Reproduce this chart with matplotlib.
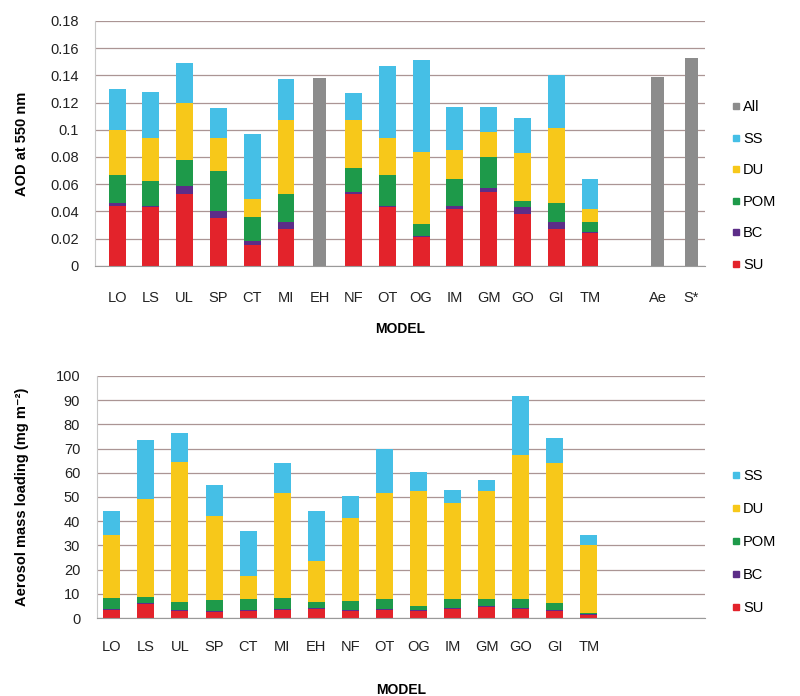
import matplotlib
matplotlib.use("Agg")
import matplotlib.pyplot as plt
from matplotlib.lines import Line2D
import numpy as np

plt.rcParams['font.family'] = ['Liberation Sans', 'DejaVu Sans']

# ---------------- data ----------------
models = ["LO", "LS", "UL", "SP", "CT", "MI", "EH", "NF", "OT", "OG", "IM", "GM", "GO", "GI", "TM"]
top_labels = models + ["", "Ae", "S*"]

# Top panel: AOD at 550 nm components (EH has only total)
aod_su  = [0.044, 0.043, 0.053, 0.035, 0.015, 0.027, 0.0, 0.053, 0.043, 0.021, 0.042, 0.054, 0.038, 0.027, 0.024]
aod_bc  = [0.002, 0.001, 0.006, 0.005, 0.003, 0.005, 0.0, 0.001, 0.001, 0.001, 0.002, 0.003, 0.005, 0.005, 0.001]
aod_pom = [0.021, 0.018, 0.019, 0.030, 0.018, 0.021, 0.0, 0.018, 0.023, 0.009, 0.020, 0.023, 0.005, 0.014, 0.007]
aod_du  = [0.033, 0.032, 0.042, 0.024, 0.013, 0.054, 0.0, 0.035, 0.027, 0.053, 0.021, 0.018, 0.035, 0.055, 0.010]
aod_ss  = [0.030, 0.034, 0.029, 0.022, 0.048, 0.030, 0.0, 0.020, 0.053, 0.067, 0.032, 0.019, 0.026, 0.039, 0.022]
aod_all_labels = ["EH", "Ae", "S*"]
aod_all = [0.138, 0.139, 0.153]

# Bottom panel: aerosol mass loading (mg m-2)
mass_su  = [3.3, 5.7, 2.8, 2.4, 2.8, 3.3, 3.7, 3.0, 3.3, 2.8, 3.7, 4.4, 3.7, 2.8, 1.2]
mass_bc  = [0.5, 0.5, 0.4, 0.4, 0.4, 0.4, 0.4, 0.4, 0.4, 0.4, 0.4, 0.4, 0.4, 0.4, 0.3]
mass_pom = [4.5, 2.5, 3.3, 4.5, 4.6, 4.6, 2.4, 3.5, 4.1, 1.6, 3.7, 3.0, 3.7, 3.0, 0.5]
mass_du  = [26.1, 40.3, 58.1, 34.7, 9.7, 43.3, 16.9, 34.4, 43.8, 47.5, 39.7, 44.5, 59.6, 57.8, 28.3]
mass_ss  = [9.6, 24.6, 12.0, 13.0, 18.3, 12.4, 20.6, 8.9, 18.4, 8.2, 5.5, 4.5, 24.1, 10.3, 4.1]

comp_names = ["SU", "BC", "POM", "DU", "SS"]
colors = {"SU": "#e3232b", "BC": "#5c2d88", "POM": "#1e9a4a",
          "DU": "#f7c81a", "SS": "#45bfe6", "All": "#8c8c8c"}

grid_c = "#ab9594"

fig = plt.figure(figsize=(8, 6.96), dpi=100)

def style_axes(ax, xpad):
    ax.set_axisbelow(True)
    ax.yaxis.grid(True, color=grid_c, lw=0.9)
    ax.xaxis.grid(False)
    for s in ["top", "right"]:
        ax.spines[s].set_visible(False)
    ax.spines["left"].set_color("#c8c8c8")
    ax.spines["bottom"].set_color("#9a9a9a")
    ax.tick_params(axis="both", length=0, labelsize=10.5, colors="#222222")
    ax.tick_params(axis="x", pad=xpad)
    ax.tick_params(axis="y", pad=12)

def legend_handles(names):
    return [Line2D([0], [0], marker="s", color="none", markerfacecolor=colors[n],
                   markeredgecolor=colors[n], markersize=4.5, label=n) for n in names]

# ---------------- top panel ----------------
ax1 = fig.add_axes([0.119, 0.618, 0.762, 0.352])
style_axes(ax1, 18)
x_models = np.arange(len(models))
w = 0.5
bottom = np.zeros(len(models))
for name, vals in zip(comp_names, [aod_su, aod_bc, aod_pom, aod_du, aod_ss]):
    v = np.array(vals)
    ax1.bar(x_models, v, w, bottom=bottom, color=colors[name], lw=0)
    bottom += v
pos_all = [top_labels.index(l) for l in aod_all_labels]
ax1.bar(pos_all, aod_all, 0.38, color=colors["All"], lw=0)
ax1.set_xlim(-0.65, 17.4)
ax1.set_ylim(0, 0.18)
ax1.set_yticks(np.arange(0, 0.181, 0.02))
ax1.set_yticklabels(["0", "0.02", "0.04", "0.06", "0.08", "0.1", "0.12", "0.14", "0.16", "0.18"])
ax1.set_xticks(np.arange(len(top_labels)))
ax1.set_xticklabels(top_labels)
ax1.set_ylabel("AOD at 550 nm", fontsize=10.5, fontweight="bold", labelpad=15)
ax1.set_xlabel("MODEL", fontsize=10, fontweight="bold", labelpad=12)
ax1.legend(handles=legend_handles(["All", "SS", "DU", "POM", "BC", "SU"]),
           loc="upper left", bbox_to_anchor=(1.035, 0.70), frameon=False,
           fontsize=10.5, handlelength=0.6, handletextpad=0.15,
           labelspacing=1.2, borderaxespad=0)

# ---------------- bottom panel ----------------
ax2 = fig.add_axes([0.121, 0.112, 0.760, 0.348])
style_axes(ax2, 16)
bottom = np.zeros(len(models))
for name, vals in zip(comp_names, [mass_su, mass_bc, mass_pom, mass_du, mass_ss]):
    v = np.array(vals)
    ax2.bar(x_models, v, w, bottom=bottom, color=colors[name], lw=0)
    bottom += v
ax2.set_xlim(-0.44, 17.4)
ax2.set_ylim(0, 100)
ax2.set_yticks(np.arange(0, 101, 10))
ax2.set_xticks(x_models)
ax2.set_xticklabels(models)
ax2.set_ylabel("Aerosol mass loading (mg m⁻²)", fontsize=10.5, fontweight="bold", labelpad=19)
ax2.set_xlabel("MODEL", fontsize=10, fontweight="bold", labelpad=21)
ax2.legend(handles=legend_handles(["SS", "DU", "POM", "BC", "SU"]),
           loc="upper left", bbox_to_anchor=(1.035, 0.638), frameon=False,
           fontsize=10.5, handlelength=0.6, handletextpad=0.15,
           labelspacing=1.3, borderaxespad=0)

fig.savefig("out.png", dpi=100)
